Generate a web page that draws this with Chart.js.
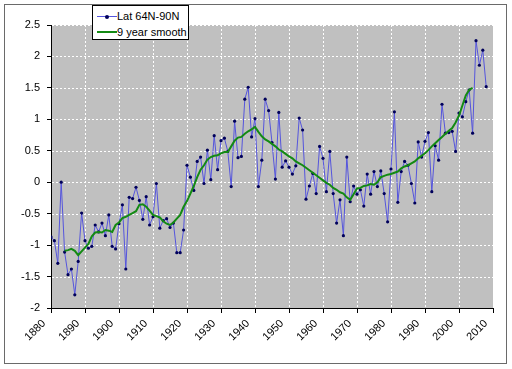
<!DOCTYPE html>
<html><head><meta charset="utf-8">
<script src="https://cdn.jsdelivr.net/npm/chart.js@4/dist/chart.umd.min.js"></script>
<style>
html,body{margin:0;padding:0;background:#fff;}
#wrap{position:relative;width:512px;height:369px;overflow:hidden;}
#frame{position:absolute;left:4px;top:4px;width:503px;height:360px;border:1px solid #6a6a6a;box-sizing:border-box;pointer-events:none;}
#legend{position:absolute;left:92px;top:5px;width:97px;height:35px;border:1px solid #000;background:#fff;box-sizing:border-box;font-family:"Liberation Sans",Arial,sans-serif;font-size:11px;color:#000;}
.row{position:absolute;left:0;height:14px;line-height:14px;white-space:nowrap;}
.sw{position:absolute;left:4px;top:7px;width:20px;}
.dot{position:absolute;left:8px;top:-2px;width:4px;height:4px;border-radius:2px;background:#00005a;}
.lab{position:absolute;left:24px;top:0;}
canvas{position:absolute;left:0;top:0;}
</style>
</head><body>
<div id="wrap">
<canvas id="c" width="512" height="369"></canvas>
<div id="frame"></div>
<div id="legend"></div>
</div>
<script>
const years = [1880,1881,1882,1883,1884,1885,1886,1887,1888,1889,
1890,1891,1892,1893,1894,1895,1896,1897,1898,1899,
1900,1901,1902,1903,1904,1905,1906,1907,1908,1909,
1910,1911,1912,1913,1914,1915,1916,1917,1918,1919,
1920,1921,1922,1923,1924,1925,1926,1927,1928,1929,
1930,1931,1932,1933,1934,1935,1936,1937,1938,1939,
1940,1941,1942,1943,1944,1945,1946,1947,1948,1949,
1950,1951,1952,1953,1954,1955,1956,1957,1958,1959,
1960,1961,1962,1963,1964,1965,1966,1967,1968,1969,
1970,1971,1972,1973,1974,1975,1976,1977,1978,1979,
1980,1981,1982,1983,1984,1985,1986,1987,1988,1989,
1990,1991,1992,1993,1994,1995,1996,1997,1998,1999,
2000,2001,2002,2003,2004,2005,2006,2007,2008];

const lat64N90N = [-0.87,-0.93,-1.29,0.00,-1.11,-1.47,-1.38,-1.79,-1.26,-0.49,
-0.93,-1.05,-1.02,-0.68,-0.79,-0.65,-0.85,-0.52,-1.02,-1.06,
-0.66,-0.36,-1.38,-0.24,-0.26,-0.08,-0.29,-0.59,-0.23,-0.68,
-0.55,-0.02,-0.73,-0.61,-0.58,-0.72,-0.65,-1.12,-1.12,-0.76,
0.27,0.08,-0.13,0.33,0.40,-0.02,0.51,0.04,0.74,0.20,
0.66,0.70,0.49,-0.07,0.97,0.39,0.41,1.32,1.51,0.72,
1.01,-0.07,0.35,1.32,1.14,0.63,0.05,1.11,0.24,0.34,
0.24,0.13,0.26,1.02,0.83,-0.27,-0.06,0.14,-0.18,0.57,
0.38,-0.15,0.49,-0.18,-0.65,-0.28,-0.85,0.40,-0.31,-0.06,
-0.19,-0.12,-0.38,0.13,-0.19,0.17,-0.07,0.18,-0.18,-0.63,
0.21,1.12,-0.32,0.17,0.33,0.27,-0.02,-0.33,0.64,0.40,
0.65,0.79,-0.15,0.58,0.35,1.24,0.78,0.79,0.81,0.49,
1.10,1.04,1.28,1.47,0.78,2.25,1.86,2.10,1.52];

const smooth9yr = [null,null,null,null,-1.09,-1.08,-1.06,-1.09,-1.16,-1.10,
-1.04,-0.98,-0.86,-0.80,-0.79,-0.80,-0.76,-0.77,-0.79,-0.68,
-0.64,-0.57,-0.55,-0.52,-0.49,-0.46,-0.36,-0.35,-0.39,-0.45,
-0.52,-0.54,-0.56,-0.62,-0.66,-0.68,-0.64,-0.58,-0.52,-0.39,
-0.30,-0.18,-0.06,0.08,0.20,0.27,0.36,0.40,0.42,0.43,
0.46,0.48,0.48,0.57,0.66,0.71,0.72,0.77,0.81,0.84,
0.88,0.80,0.73,0.68,0.65,0.61,0.57,0.52,0.49,0.45,
0.41,0.38,0.33,0.30,0.27,0.23,0.19,0.15,0.11,0.07,
0.03,-0.01,-0.04,-0.09,-0.12,-0.16,-0.18,-0.24,-0.28,-0.19,
-0.10,-0.09,-0.06,-0.05,-0.03,-0.04,0.00,0.08,0.10,0.12,
0.13,0.15,0.17,0.22,0.25,0.27,0.30,0.33,0.38,0.42,
0.46,0.51,0.57,0.62,0.67,0.72,0.77,0.82,0.86,0.95,
1.06,1.22,1.38,1.47,1.50,null,null,null,null];

const xTicks = [1880,1890,1900,1910,1920,1930,1940,1950,1960,1970,1980,1990,2000,2010];
const yTicks = [-2,-1.5,-1,-0.5,0,0.5,1,1.5,2,2.5];
const seriesNames = ['Lat 64N-90N','9 year smooth'];

const BLUE = '#5555dd', NAVY = '#00005a', GREEN = '#138a13';
const FONT = {family:'"Liberation Sans", Arial, sans-serif', size:11};

const plotBg = {
  id:'plotBg',
  beforeDraw(chart){
    const {ctx, chartArea:a} = chart;
    ctx.save(); ctx.fillStyle = '#c0c0c0';
    ctx.fillRect(a.left, a.top, a.right-a.left, a.bottom-a.top);
    ctx.restore();
  },
  beforeDatasetsDraw(chart){
    const {ctx, chartArea:a, scales:{x,y}} = chart;
    ctx.save(); ctx.strokeStyle = '#ffffff'; ctx.lineWidth = 1; ctx.setLineDash([2,2]);
    yTicks.forEach(v=>{ if(v===-2) return; const py = Math.round(y.getPixelForValue(v))+0.5;
      ctx.beginPath(); ctx.moveTo(a.left+1, py); ctx.lineTo(a.right, py); ctx.stroke(); });
    xTicks.forEach(v=>{ if(v===1880||v===2010) return; const px = Math.round(x.getPixelForValue(v))+0.5;
      ctx.beginPath(); ctx.moveTo(px, a.top); ctx.lineTo(px, a.bottom-1); ctx.stroke(); });
    ctx.restore();
  }
};

const chart = new Chart(document.getElementById('c'), {
  type:'line',
  data:{
    datasets:[
      {label:seriesNames[1], data:years.map((yr,i)=>({x:yr,y:smooth9yr[i]})), borderColor:GREEN, borderWidth:2, pointRadius:0, tension:0, spanGaps:false},
      {label:seriesNames[0], data:years.map((yr,i)=>({x:yr,y:lat64N90N[i]})), borderColor:BLUE, borderWidth:1, pointRadius:1.6, pointBorderWidth:0, pointBackgroundColor:NAVY, tension:0}
    ]
  },
  options:{
    responsive:false, animation:false, events:[],
    layout:{padding:{left:4,top:25,right:19,bottom:11}},
    plugins:{legend:{display:false}, tooltip:{enabled:false}},
    scales:{
      x:{type:'linear', min:1880, max:2010,
        afterBuildTicks(s){ s.ticks = xTicks.map(v=>({value:v})); },
        afterFit(s){ s.height = 50; },
        ticks:{autoSkip:false, maxRotation:45, minRotation:45, color:'#000', font:FONT, padding:4, labelOffset:-7, callback:(v)=>String(v)},
        grid:{drawOnChartArea:false, drawTicks:true, tickLength:5, tickColor:'#000', color:'#000'},
        border:{display:true, color:'#000', width:1}
      },
      y:{min:-2, max:2.5,
        afterBuildTicks(s){ s.ticks = yTicks.map(v=>({value:v})); },
        afterFit(s){ s.width = 47; },
        ticks:{color:'#000', font:FONT, padding:7, callback:(v)=>String(v)},
        grid:{drawOnChartArea:false, drawTicks:true, tickLength:4, tickColor:'#000', color:'#000'},
        border:{display:true, color:'#000', width:1}
      }
    }
  },
  plugins:[plotBg]
});

// HTML legend built from the datasets
const leg = document.getElementById('legend');
const order = [1,0];
order.forEach((di,row)=>{
  const ds = chart.data.datasets[di];
  const r = document.createElement('div'); r.className='row'; r.style.top = (row===0? 3 : 19)+'px'; r.style.width='95px';
  const sw = document.createElement('div'); sw.className='sw';
  sw.style.borderTop = (ds.borderWidth)+'px solid '+ds.borderColor;
  sw.style.top = (7 - Math.floor(ds.borderWidth/2))+'px';
  if (ds.pointRadius>0){ const d=document.createElement('div'); d.className='dot'; sw.appendChild(d); }
  const lab = document.createElement('div'); lab.className='lab'; lab.textContent = ds.label;
  r.appendChild(sw); r.appendChild(lab); leg.appendChild(r);
});
</script>
</body></html>
